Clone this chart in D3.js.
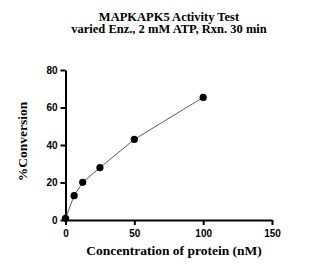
<!DOCTYPE html>
<html><head><meta charset="utf-8">
<script src="https://cdn.jsdelivr.net/npm/d3@7"></script>
<style>body{margin:0;background:#fff}svg{display:block}</style>
</head><body>
<svg id="c" width="309" height="273"></svg>
<script>
const xValues = [0, 6.25, 12.5, 25, 50, 100];
const yValues = [0.9, 13.0, 20.1, 27.9, 43.0, 65.4];
const xTicks = [0, 50, 100, 150];
const yTicks = [0, 20, 40, 60, 80];
const titleLines = ["MAPKAPK5 Activity Test", "varied Enz., 2 mM ATP, Rxn. 30 min"];
const xLabel = "Concentration of protein (nM)";
const yLabel = "%Conversion";

const svg = d3.select("#c");
const x = d3.scaleLinear().domain([0,150]).range([65.5,272]);
const y = d3.scaleLinear().domain([0,80]).range([220,70]);

svg.selectAll("text.title").data(titleLines).join("text")
  .attr("x",169).attr("y",(d,i)=>20.5+i*12.8)
  .attr("text-anchor","middle")
  .attr("font-family","'Liberation Serif', serif").attr("font-weight","bold").attr("font-size",12.5)
  .text(d=>d);

const xa = svg.append("g").attr("transform","translate(0,220)")
  .call(d3.axisBottom(x).tickValues(xTicks).tickSize(5).tickSizeOuter(0));
const ya = svg.append("g").attr("transform","translate(65.5,0)")
  .call(d3.axisLeft(y).tickValues(yTicks).tickSize(5).tickSizeOuter(0));
[xa,ya].forEach(a=>{
  a.select(".domain").attr("stroke","#000").attr("stroke-width",2);
  a.selectAll(".tick line").attr("stroke","#000").attr("stroke-width",2);
  a.selectAll(".tick text").attr("font-family","'Liberation Sans', Arial, sans-serif")
   .attr("font-weight","bold").attr("font-size",10).attr("fill","#000");
});
xa.selectAll(".tick text").attr("dy","0.9em");

const pts = xValues.map((v,i)=>[v,yValues[i]]);
svg.append("path").datum(pts)
  .attr("d",d3.line().x(d=>x(d[0])).y(d=>y(d[1])))
  .attr("fill","none").attr("stroke","#333").attr("stroke-width",0.8);
svg.selectAll("circle.p").data(pts).join("circle")
  .attr("cx",d=>x(d[0])).attr("cy",d=>y(d[1])).attr("r",3.6).attr("fill","#000");

svg.append("text").attr("x",174).attr("y",255).attr("text-anchor","middle")
  .attr("font-family","'Liberation Serif', serif").attr("font-weight","bold").attr("font-size",13.5)
  .text(xLabel);
svg.append("text").attr("transform","translate(27,141.5) rotate(-90)").attr("text-anchor","middle")
  .attr("font-family","'Liberation Serif', serif").attr("font-weight","bold").attr("font-size",13.5)
  .text(yLabel);
</script>
</body></html>
